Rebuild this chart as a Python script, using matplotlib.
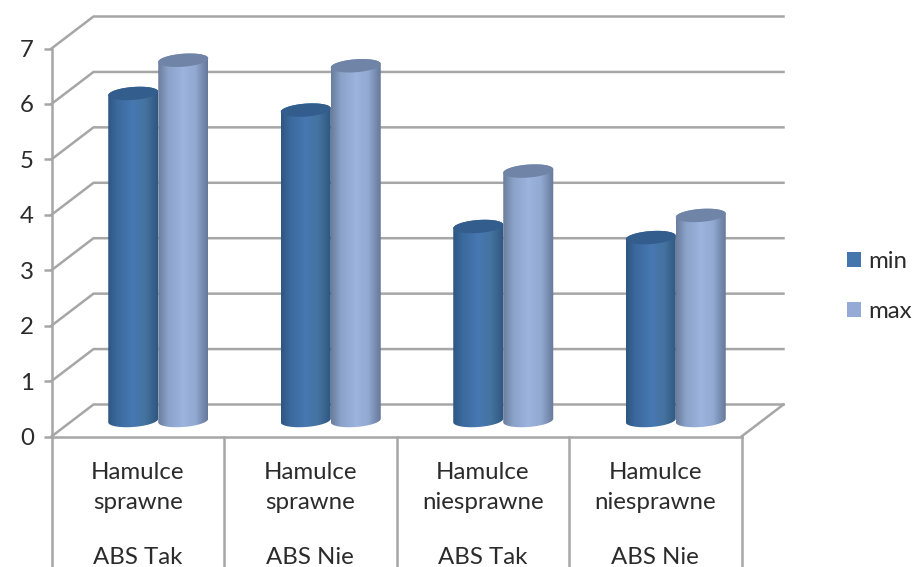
import numpy as np
import matplotlib
matplotlib.use("Agg")
import matplotlib.pyplot as plt
from matplotlib.path import Path
from matplotlib.patches import PathPatch, Patch
from matplotlib.colors import LinearSegmentedColormap

categories = ["Hamulce\nsprawne", "Hamulce\nsprawne", "Hamulce\nniesprawne", "Hamulce\nniesprawne"]
abs_labels = ["ABS Tak", "ABS Nie", "ABS Tak", "ABS Nie"]
series_names = ["min", "max"]
min_values = [5.9, 5.6, 3.5, 3.3]
max_values = [6.5, 6.4, 4.5, 3.7]
y_ticks = [0, 1, 2, 3, 4, 5, 6, 7]

W, H = 915, 567
L, R, T, B = 51.5, 741.5, 48.5, 436.5
GRID = "#a6a6a6"
TXT = "#2b2b2b"
plt.rcParams["font.family"] = ["Lato", "DejaVu Sans"]
FS = 17.3

fig = plt.figure(figsize=(W / 100, H / 100), dpi=100)
ax = fig.add_axes([L / W, 1 - B / H, (R - L) / W, (B - T) / H])
ax.set_xlim(0, 4)
ax.set_ylim(0, 7)
ax.patch.set_alpha(0)

ux = (R - L) / 4
uy = (B - T) / 7
dx = 42 / ux   # chart depth, data units
dy = 32 / uy
lw = 1.8

# back wall, side wall and floor
for v in y_ticks:
    ax.plot([0, dx, 4 + dx], [v, v + dy, v + dy], color=GRID, lw=lw, clip_on=False, zorder=1,
            solid_capstyle="projecting", solid_joinstyle="miter")
ax.plot([4, 4 + dx], [0, dy], color=GRID, lw=lw, clip_on=False, zorder=1)

# axes and category separators
for s in ["top", "right"]:
    ax.spines[s].set_visible(False)
for s in ["left", "bottom"]:
    ax.spines[s].set_color(GRID)
    ax.spines[s].set_linewidth(lw)
ax.set_yticks(y_ticks)
ax.tick_params(axis="y", length=5.8, width=lw, color=GRID, labelcolor=TXT, labelsize=FS, pad=7)
ax.tick_params(axis="x", length=0, labelcolor=TXT, labelsize=FS, pad=18.5)
bottom_y = -(H - B) / uy
for i in range(5):
    ax.plot([i, i], [0, bottom_y], color=GRID, lw=lw, clip_on=False, zorder=1)
ax.set_xticks(np.arange(4) + 0.5)
ax.set_xticklabels(categories, linespacing=1.5)
for i, lab in enumerate(abs_labels):
    ax.annotate(lab, (i + 0.5, 0), xytext=(0, -(557 - B) * 0.72), textcoords="offset points",
                ha="center", va="center", color=TXT, fontsize=FS, annotation_clip=False)

# cylinders
cmap_min = LinearSegmentedColormap.from_list("m", [(0, "#2f5680"), (.18, "#3b699d"), (.5, "#4778b2"), (.75, "#44739f"), (1, "#2f5680")])
cmap_max = LinearSegmentedColormap.from_list("x", [(0, "#6a7d9c"), (.2, "#8ba2c9"), (.5, "#9cb4de"), (.75, "#92a9d1"), (1, "#66789a")])
grad = np.linspace(0, 1, 128)[None, :]
bw = 50 / ux
ra = bw / 2
rb = 6.5 / uy
tilt = 1.8 / uy


def ell(cx, cy, t):
    return cx + ra * np.cos(t), cy + rb * np.sin(t) + tilt * np.cos(t)


def cylinder(cx, v, cmap, top_color, z):
    base = dy / 2
    t1 = np.linspace(np.pi, 2 * np.pi, 40)
    t2 = np.linspace(0, np.pi, 40)
    xb, yb = ell(cx, base, t1)
    xt, yt = ell(cx, base + v, t2)
    verts = np.column_stack([np.r_[xb, xt], np.r_[yb, yt]])
    body = PathPatch(Path(np.vstack([verts, verts[0]]), closed=True), fc="none", ec="none", transform=ax.transData)
    ax.add_patch(body)
    im = ax.imshow(grad, extent=[cx - ra, cx + ra, 0, 7], cmap=cmap, aspect="auto", zorder=z, interpolation="bilinear")
    im.set_clip_path(body)
    xc, yc = ell(cx, base + v, np.linspace(0, 2 * np.pi, 80))
    ax.fill(xc, yc, color=top_color, lw=0, zorder=z + 0.1)


for i, (a, b) in enumerate(zip(min_values, max_values)):
    c = i + 0.5 + dx / 2 - 0.5 / ux
    cylinder(c - bw / 2, a, cmap_min, "#335d8c", 3)
    cylinder(c + bw / 2, b, cmap_max, "#6f84a6", 4)
ax.set_xlim(0, 4)
ax.set_ylim(0, 7)

handles = [Patch(fc="#4575ad", ec="none", label=series_names[0]), Patch(fc="#95abd5", ec="none", label=series_names[1])]
fig.legend(handles=handles, loc="center left", bbox_to_anchor=(847 / W, 1 - 286.5 / H), frameon=False,
           fontsize=FS, labelcolor=TXT, borderpad=0, borderaxespad=0, handlelength=0.58, handleheight=0.58,
           handletextpad=0.3, labelspacing=1.2)

fig.savefig("out.png", dpi=100)
